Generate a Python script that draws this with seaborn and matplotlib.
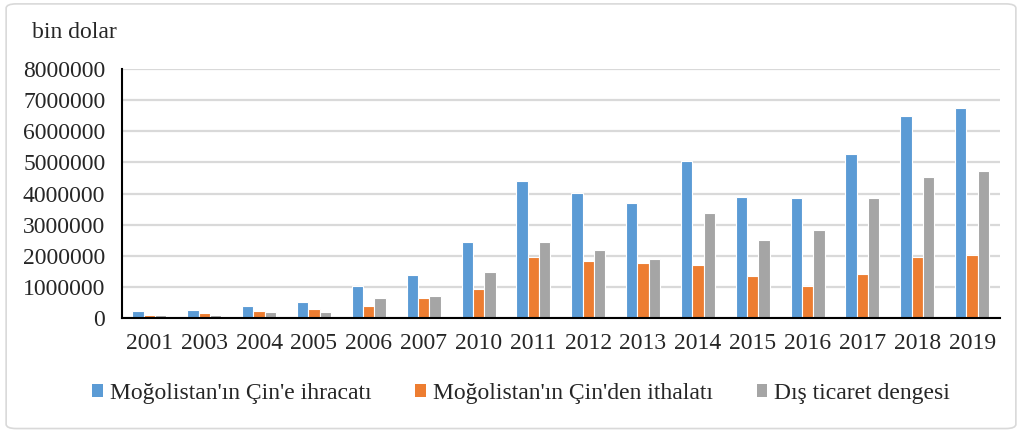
import numpy as np
import pandas as pd
import seaborn as sns
import matplotlib.pyplot as plt
from matplotlib.patches import FancyBboxPatch, Patch

# data (bin dolar)
years = ["2001", "2003", "2004", "2005", "2006", "2007", "2010", "2011",
         "2012", "2013", "2014", "2015", "2016", "2017", "2018", "2019"]
ihracat = [230000, 270000, 400000, 510000, 1040000, 1390000, 2440000, 4390000,
           4020000, 3690000, 5060000, 3890000, 3860000, 5260000, 6500000, 6760000]
ithalat = [110000, 170000, 210000, 290000, 390000, 640000, 940000, 1960000,
           1820000, 1780000, 1690000, 1340000, 1030000, 1400000, 1960000, 2020000]
denge = [100000, 100000, 180000, 200000, 630000, 710000, 1490000, 2430000,
         2190000, 1890000, 3370000, 2520000, 2820000, 3850000, 4520000, 4740000]
series = ["Moğolistan'ın Çin'e ihracatı", "Moğolistan'ın Çin'den ithalatı",
          "Dış ticaret dengesi"]
colors = ["#5B9BD5", "#ED7D31", "#A5A5A5"]

df = pd.DataFrame({"yil": years * 3,
                   "deger": ihracat + ithalat + denge,
                   "seri": [series[0]] * 16 + [series[1]] * 16 + [series[2]] * 16})

sns.set_theme(style="white")
plt.rcParams["font.family"] = ["Liberation Serif", "DejaVu Serif"]
FS = 17

fig = plt.figure(figsize=(10.22, 4.32), dpi=100)
ax = fig.add_axes([0.1194, 0.2639, 0.8586, 0.5761])

sns.barplot(data=df, x="yil", y="deger", hue="seri", hue_order=series,
            palette=colors, width=0.62, edgecolor="white", linewidth=0.8,
            saturation=1, ax=ax, legend=False)

ax.set_ylim(0, 8000000)
ax.set_xlim(-0.5, 15.5)
ax.set_yticks(np.arange(0, 8000001, 1000000))
ax.set_yticklabels([str(v) for v in range(0, 8000001, 1000000)], fontsize=FS)
ax.yaxis.grid(True, color="#D9D9D9", linewidth=1.6)
ax.set_axisbelow(True)
ax.set_xlabel("")
ax.set_ylabel("")

# category boundary ticks on x axis
ax.set_xticks(np.arange(-0.5, 16, 1), minor=True)
ax.tick_params(axis="x", which="major", length=0, labelsize=FS, pad=11)
ax.tick_params(axis="x", which="minor", length=6, width=1.5, color="black", direction="out")
ax.tick_params(axis="y", which="major", length=5, width=1.5, color="black",
               direction="out", pad=7)

for s in ["top", "right"]:
    ax.spines[s].set_visible(False)
for s in ["left", "bottom"]:
    ax.spines[s].set_color("black")
    ax.spines[s].set_linewidth(1.5)

fig.text(0.031, 0.925, "bin dolar", fontsize=FS, ha="left", va="center")

handles = [Patch(facecolor=c, edgecolor="none") for c in colors]
fig.legend(handles, series, loc="center", bbox_to_anchor=(0.51, 0.09), ncol=3,
           frameon=False, fontsize=FS, handlelength=0.45, handleheight=0.45,
           handletextpad=0.3, columnspacing=1.85)

border = FancyBboxPatch((0.006, 0.008), 0.988, 0.983, boxstyle="round,pad=0,rounding_size=0.01",
                        transform=fig.transFigure, facecolor="none", edgecolor="#D9D9D9",
                        linewidth=1.2)
fig.patches.append(border)

fig.savefig("out.png", dpi=100)
plt.close(fig)
